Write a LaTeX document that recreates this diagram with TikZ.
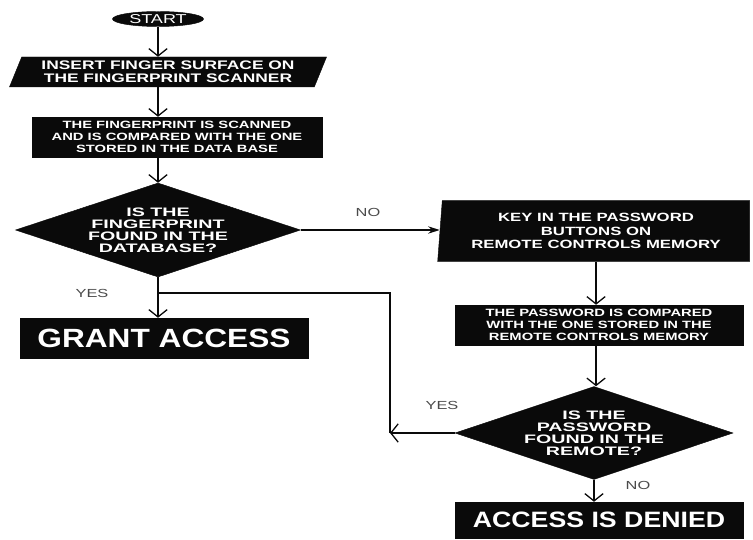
\documentclass[tikz,border=0pt]{standalone}
\usepackage{fontspec}
\setmainfont{Liberation Sans}
\newfontfamily\boxfont[FakeStretch=1.4]{Liberation Sans}
\newfontfamily\widefont[FakeStretch=1.6]{Liberation Sans}
\newfontfamily\bigboxfont[FakeStretch=1.2]{Liberation Sans}
\usetikzlibrary{arrows.meta,positioning,shapes.geometric}
\definecolor{ink}{HTML}{0A0A0A}
\definecolor{labelgray}{HTML}{4A4A4A}
\tikzset{
  flowbox/.style={
    fill=ink,
    draw=ink,
    text=white,
    align=center,
    inner sep=1pt,
    font=\boxfont\bfseries\fontsize{9}{10.2}\selectfont
  },
  termnode/.style={flowbox, ellipse, inner sep=0pt, minimum width=2.73cm, minimum height=0.45cm,
    font=\boxfont\fontsize{11}{12}\selectfont},
  iobox/.style={flowbox, trapezium, trapezium stretches body},
  procbox/.style={flowbox, rectangle, minimum width=8.64cm, minimum height=1.2cm},
  decisionbox/.style={flowbox, diamond, aspect=3, inner sep=0pt,
    font=\widefont\bfseries\fontsize{10.5}{10.2}\selectfont},
  resultbox/.style={flowbox, rectangle, minimum width=8.64cm, minimum height=1.2cm},
  flowline/.style={draw=ink, line width=1.1pt},
  flowarrow/.style={flowline, -{Straight Barb[length=2.2mm, width=5.5mm, line width=1.1pt]}},
  noarrow/.style={flowline, -{Stealth[length=3.5mm, width=2.2mm]}},
  ann/.style={font=\boxfont\fontsize{10}{12}\selectfont, text=labelgray}
}
\begin{document}
\begin{tikzpicture}[x=0.03cm, y=-0.03cm]
  \useasboundingbox (0,0) rectangle (753,540);

  % left column
  \node[termnode] (start) at (158,19) {START};
  \node[iobox, trapezium left angle=63, trapezium right angle=117,
    minimum width=9.51cm, minimum height=0.9cm, font=\boxfont\bfseries\fontsize{10.6}{11}\selectfont] (insert) at (168,72)
    {INSERT FINGER SURFACE ON\\THE FINGERPRINT SCANNER};
  \node[procbox, minimum width=8.7cm] (scan) at (177,137)
    {THE FINGERPRINT IS SCANNED\\AND IS COMPARED WITH THE ONE\\STORED IN THE DATA BASE};
  \node[decisionbox, minimum width=8.55cm, minimum height=2.82cm] (fpq) at (158,230)
    {IS THE\\FINGERPRINT\\FOUND IN THE\\DATABASE?};
  \node[resultbox, font=\bigboxfont\bfseries\fontsize{22.5}{24}\selectfont] (grant) at (164,338) {GRANT ACCESS};

  % right column
  \node[iobox, trapezium left angle=83, trapezium right angle=90,
    minimum width=9.36cm, minimum height=1.83cm, font=\boxfont\bfseries\fontsize{10.2}{11.4}\selectfont] (key) at (596,231)
    {KEY IN THE PASSWORD\\BUTTONS ON\\REMOTE CONTROLS MEMORY};
  \node[procbox] (pwcmp) at (599,325)
    {THE PASSWORD IS COMPARED\\WITH THE ONE STORED IN THE\\REMOTE CONTROLS MEMORY};
  \node[decisionbox, minimum width=8.34cm, minimum height=2.79cm] (pwq) at (594,433)
    {IS THE\\PASSWORD\\FOUND IN THE\\REMOTE?};
  \node[resultbox, minimum height=1.08cm, font=\bigboxfont\bfseries\fontsize{19}{21}\selectfont] (denied) at (599,520)
    {ACCESS IS DENIED};

  \coordinate (join) at (158,293);
  \coordinate (yesturn) at (390,433);

  \draw[flowarrow] (start.south) -- (start.south |- insert.north);
  \draw[flowarrow] (start.south |- insert.south) -- (start.south |- scan.north);
  \draw[flowarrow] (start.south |- scan.south) -- (fpq.north);
  \draw[flowarrow] (fpq.south) -- (fpq.south |- grant.north);
  \draw[noarrow] (fpq.east) -- (fpq.east -| key.west);

  \draw[flowarrow] (key.south) -- (key.south |- pwcmp.north);
  \draw[flowarrow] (key.south |- pwcmp.south) -- (key.south |- pwq.north);
  \draw[flowarrow] (pwq.west) -- (yesturn);
  \draw[flowline] (yesturn) |- (join);
  \draw[flowarrow] (pwq.south) -- (pwq.south |- denied.north);

  \node[ann] (nofp) at (368,212) {NO};
  \node[ann] (yesfp) at (92,293) {YES};
  \node[ann] (yespw) at (442,405) {YES};
  \node[ann] (nopw) at (638,485) {NO};
\end{tikzpicture}
\end{document}
